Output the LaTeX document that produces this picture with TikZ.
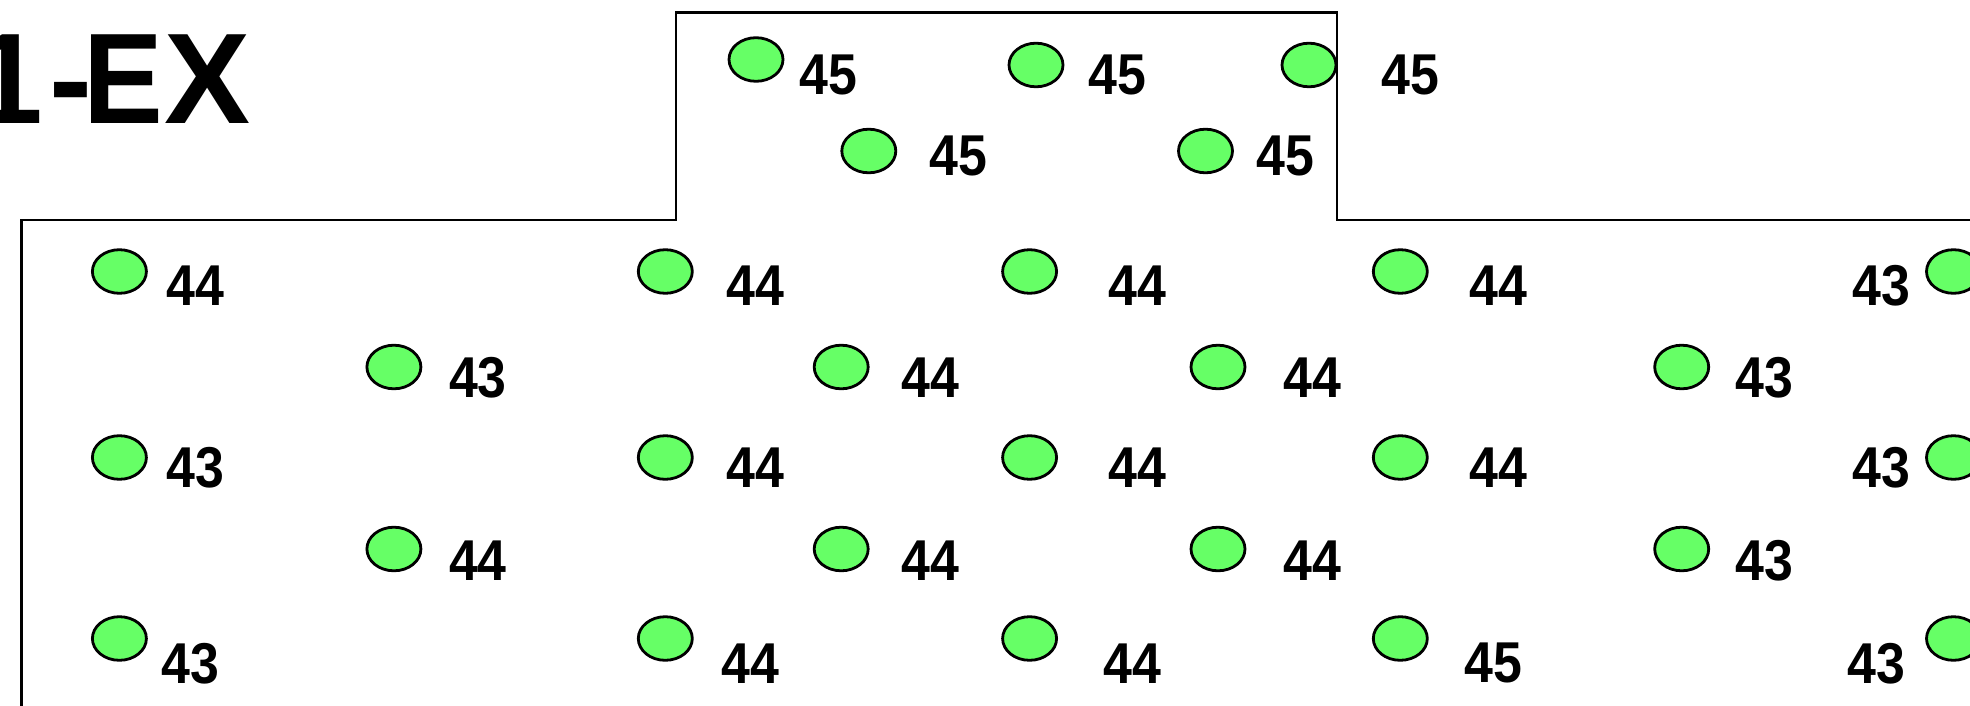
\documentclass[tikz,border=0pt]{standalone}
\usepackage{fontspec}
\setmainfont{Liberation Sans}
\newfontfamily\numfont[FakeStretch=0.9]{Liberation Sans Bold}
\usetikzlibrary{shapes.geometric}
\definecolor{dotgreen}{RGB}{102,255,102}
\begin{document}
\begin{tikzpicture}[x=0.5pt,y=-0.5pt,
  dot/.style={ellipse,draw=black,line width=1.4pt,fill=dotgreen,minimum width=27pt,minimum height=21.8pt,inner sep=0pt},
  val/.style={inner sep=0pt,font=\fontsize{28.8pt}{30pt}\selectfont\numfont},
  titletext/.style={inner sep=0pt,anchor=base east,font=\fontsize{64.5pt}{70pt}\selectfont\bfseries},
  wall/.style={draw=black,line width=1.35pt}]
\useasboundingbox (0,0) rectangle (1970,706);
\fill[white] (0,0) rectangle (1970,706);

% title
\node[titletext] (title) at (251,123.3) {1\kern3pt-\kern-4.5pt\scalebox{0.927}[1]{E}\kern0.7pt X};

% bump rows
\node[dot] (b1) at (756,59.5) {};
\node[dot] (b2) at (1036,65) {};
\node[dot] (b3) at (1309,65) {};
\node[dot] (b4) at (868.8,151) {};
\node[dot] (b5) at (1205.5,151) {};
\node[val] (lb1) at (828.6,75.4) {45};
\node[val] (lb2) at (1117.6,75.4) {45};
\node[val] (lb3) at (1410,75.4) {45};
\node[val] (lb4) at (958,156) {45};
\node[val] (lb5) at (1285,156) {45};

% row A
\node[dot] (a1) at (119.4,271.5) {};
\node[dot] (a2) at (665.3,271.5) {};
\node[dot] (a3) at (1029.6,271.5) {};
\node[dot] (a4) at (1400.3,271.5) {};
\node[dot] (a5) at (1953.5,271.5) {};
\node[val] (la1) at (195.4,285.5) {44};
\node[val] (la2) at (755.7,285.5) {44};
\node[val] (la3) at (1137.7,285.5) {44};
\node[val] (la4) at (1498.3,285.5) {44};
\node[val] (la5) at (1881.5,285.5) {43};

% row B
\node[dot] (r1) at (393.9,367) {};
\node[dot] (r2) at (841.2,367) {};
\node[dot] (r3) at (1218,367) {};
\node[dot] (r4) at (1681.7,367) {};
\node[val] (lr1) at (478,377.6) {43};
\node[val] (lr2) at (930.4,377.6) {44};
\node[val] (lr3) at (1312.3,377.6) {44};
\node[val] (lr4) at (1764.6,377.6) {43};

% row C
\node[dot] (c1) at (119.4,457.5) {};
\node[dot] (c2) at (665.3,457.5) {};
\node[dot] (c3) at (1029.6,457.5) {};
\node[dot] (c4) at (1400.3,457.5) {};
\node[dot] (c5) at (1953.5,457.5) {};
\node[val] (lc1) at (195.4,468) {43};
\node[val] (lc2) at (755.7,468) {44};
\node[val] (lc3) at (1137.7,468) {44};
\node[val] (lc4) at (1498.3,468) {44};
\node[val] (lc5) at (1881.5,468) {43};

% row D
\node[dot] (d1) at (393.9,549) {};
\node[dot] (d2) at (841.2,549) {};
\node[dot] (d3) at (1218,549) {};
\node[dot] (d4) at (1681.7,549) {};
\node[val] (ld1) at (478,561) {44};
\node[val] (ld2) at (930.4,561) {44};
\node[val] (ld3) at (1312.3,561) {44};
\node[val] (ld4) at (1764.6,561) {43};

% row E
\node[dot] (e1) at (119.4,638.5) {};
\node[dot] (e2) at (665.3,638.5) {};
\node[dot] (e3) at (1029.6,638.5) {};
\node[dot] (e4) at (1400.3,638.5) {};
\node[dot] (e5) at (1953.5,638.5) {};
\node[val] (le1) at (190.3,663.4) {43};
\node[val] (le2) at (750.7,663.4) {44};
\node[val] (le3) at (1132.7,663.4) {44};
\node[val] (le4) at (1493.3,663.4) {45};
\node[val] (le5) at (1876.5,663.4) {43};

% outline
\draw[wall] (21.7,720) -- (21.7,220) -- (676,220) -- (676,12.7) -- (1337,12.7) -- (1337,220) -- (1990,220);
\end{tikzpicture}
\end{document}
